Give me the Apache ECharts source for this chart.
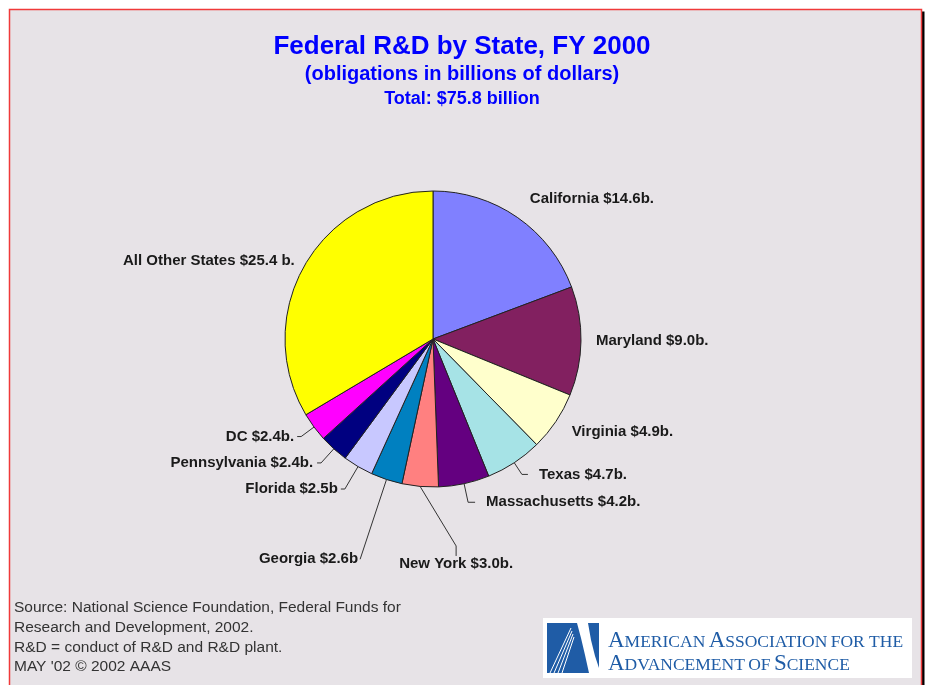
<!DOCTYPE html>
<html lang="en">
<head>
    <meta charset="UTF-8">
    <title>Federal R&amp;D by State, FY 2000</title>
    <script type="text/javascript" src="https://cdn.jsdelivr.net/npm/echarts@6/dist/echarts.min.js"></script>
    <style>
        html, body { margin: 0; padding: 0; background: #fff; }
    </style>
</head>
<body>
<div id="pie" style="width: 929px;height:685px;"></div>
<script>

    // data, billions of dollars
    var states = ['California', 'Maryland', 'Virginia', 'Texas', 'Massachusetts', 'New York',
        'Georgia', 'Florida', 'Pennsylvania', 'DC', 'All Other States'];
    var values = [14.6, 9.0, 4.9, 4.7, 4.2, 3.0, 2.6, 2.5, 2.4, 2.4, 25.4];
    var labels = ['California $14.6b.', 'Maryland $9.0b.', 'Virginia $4.9b.', 'Texas $4.7b.',
        'Massachusetts $4.2b.', 'New York $3.0b.', 'Georgia $2.6b', 'Florida $2.5b',
        'Pennsylvania $2.4b.', 'DC $2.4b.', 'All Other States $25.4 b.'];
    var colors = ['#8080FF', '#822060', '#FFFFCC', '#A6E3E6', '#640080', '#FF8080',
        '#0080C0', '#C8C8FF', '#000080', '#FF00FF', '#FFFF00'];
    var notes = ['Source: National Science Foundation, Federal Funds for',
        'Research and Development, 2002.',
        'R&D = conduct of R&D and R&D plant.',
        "MAY '02 \u00A9 2002 AAAS"];

    // label leader lines (style only)
    var lineLen = [22, 10, 19, 14, 19, 10, 84, 26, 19, 16, 11];
    var lineLen2 = [0, 0, 0, 6, 7, 10, 0, 4, 4, 4, 0];
    var labelGap = [0, 5, 0, 11, 11, 5, 2, 3, 4, 3, 0];
    var showLine = [false, false, false, true, true, true, true, true, true, true, false];
    var NY = states.indexOf('New York');

    var pieData = states.map(function (name, i) {
        return {
            name: name,
            value: values[i],
            itemStyle: {color: colors[i]},
            label: {distanceToLabelLine: labelGap[i]},
            labelLine: {show: showLine[i], length: lineLen[i], length2: lineLen2[i]}
        };
    });

    var noteText = notes.map(function (t, i) {
        return {
            type: 'text', left: 14, top: 600 + i * 19.7,
            style: {text: t, font: '15.5px "Liberation Sans", Arial, sans-serif', fill: '#333'}
        };
    });

    var logoBlue = '#1F5CA6';
    var serif = '"Liberation Serif", "Times New Roman", serif';
    var logoRich = {
        b: {fontSize: 23, fontFamily: serif, fill: logoBlue, color: logoBlue},
        s: {fontSize: 17.5, fontFamily: serif, fill: logoBlue, color: logoBlue, padding: [3, 0, 0, 0]}
    };

    option = {
        backgroundColor: '#ffffff',
        animation: false,
        title: [{
            text: 'Federal R&D by State, FY 2000',
            left: 457, top: 29, textAlign: 'center',
            textStyle: {color: '#0000FF', fontSize: 26, fontWeight: 'bold', fontFamily: 'Liberation Sans'}
        }, {
            text: '(obligations in billions of dollars)',
            left: 457, top: 59, textAlign: 'center',
            textStyle: {color: '#0000FF', fontSize: 20, fontWeight: 'bold', fontFamily: 'Liberation Sans'}
        }, {
            text: 'Total: $75.8 billion',
            left: 457, top: 85, textAlign: 'center',
            textStyle: {color: '#0000FF', fontSize: 18, fontWeight: 'bold', fontFamily: 'Liberation Sans'}
        }],
        graphic: [{
            // frame
            type: 'rect', z: -10,
            shape: {x: 12.5, y: 11.5, width: 912, height: 700},
            style: {fill: '#000'}
        }, {
            type: 'rect', z: -9,
            shape: {x: 9.5, y: 9.5, width: 912, height: 700},
            style: {fill: '#E7E3E7', stroke: '#F03A3A', lineWidth: 1.5}
        }, {
            // AAAS logo
            type: 'rect', z: -8,
            shape: {x: 543, y: 618, width: 369, height: 60},
            style: {fill: '#FFFFFF'}
        }, {
            type: 'rect', z: -7,
            shape: {x: 547, y: 623, width: 52, height: 50},
            style: {fill: logoBlue}
        }, {
            type: 'polygon', z: -6,
            shape: {points: [[577, 623], [588, 623], [591, 640], [595, 656], [599, 668], [599, 673], [589, 673], [585, 655], [581, 638]]},
            style: {fill: '#FFFFFF'}
        }, {
            type: 'polyline', z: -6,
            shape: {points: [[571, 628], [550, 673]]},
            style: {stroke: '#FFFFFF', lineWidth: 1}
        }, {
            type: 'polyline', z: -6,
            shape: {points: [[572, 631], [554, 673]]},
            style: {stroke: '#FFFFFF', lineWidth: 1}
        }, {
            type: 'polyline', z: -6,
            shape: {points: [[573, 634], [558, 673]]},
            style: {stroke: '#FFFFFF', lineWidth: 1}
        }, {
            type: 'polyline', z: -6,
            shape: {points: [[574, 637], [562, 673]]},
            style: {stroke: '#FFFFFF', lineWidth: 1}
        }, {
            type: 'text', z: -5, left: 608, top: 629,
            style: {text: '{b|A}{s|MERICAN} {b|A}{s|SSOCIATION} {s|FOR THE}', rich: logoRich}
        }, {
            type: 'text', z: -5, left: 608, top: 652,
            style: {text: '{b|A}{s|DVANCEMENT} {s|OF} {b|S}{s|CIENCE}', rich: logoRich}
        }].concat(noteText),
        series: [{
            name: 'Federal R&D',
            type: 'pie',
            center: [433, 339],
            radius: 148,
            startAngle: 90,
            clockwise: true,
            avoidLabelOverlap: false,
            emphasis: {disabled: true},
            itemStyle: {borderColor: '#222', borderWidth: 1},
            label: {
                show: true,
                position: 'outside',
                formatter: function (p) {
                    return labels[p.dataIndex];
                },
                color: '#1a1a1a',
                fontSize: 15,
                fontWeight: 'bold',
                fontFamily: 'Liberation Sans'
            },
            labelLine: {lineStyle: {color: '#333', width: 1}},
            labelLayout: function (p) {
                // New York's label hangs below its slice
                if (p.dataIndex !== NY) {
                    return;
                }
                var a = p.labelLinePoints[0];
                return {x: a[0] + 36, y: a[1] + 77, align: 'center', verticalAlign: 'middle'};
            },
            data: pieData
        }]
    };
    var myChart = echarts.init(document.getElementById('pie'));
    myChart.setOption(option);

</script>
</body>
</html>
